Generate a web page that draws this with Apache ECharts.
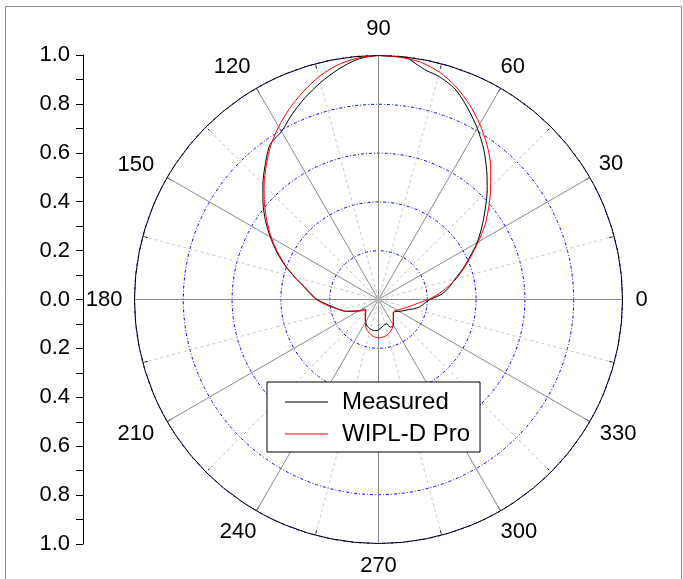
<!DOCTYPE html>
<html>
<head>
<meta charset="utf-8">
<script src="https://cdn.jsdelivr.net/npm/echarts@6/dist/echarts.min.js"></script>
<style>
  html, body { margin: 0; padding: 0; background: #fff; }
  #chart { width: 683px; height: 579px; }
</style>
</head>
<body>
<div id="chart"></div>
<script>
// angle (deg) and normalised pattern for each curve
var measuredAngles = [0, 5, 10, 15, 20, 25, 30, 35, 40, 45, 50, 55, 60, 65, 70, 75, 78, 81, 83, 85, 90,
  95, 100, 105, 110, 115, 120, 125, 130, 135, 140, 145, 150, 155, 160, 165, 170, 175, 180,
  185, 190, 195, 200, 205, 210, 213, 215, 220, 225, 230, 235, 240, 245, 250, 255, 260, 265, 270,
  275, 280, 285, 289, 293, 300, 305, 310, 315, 320, 325, 330, 335, 340, 345, 350, 355, 360];
var measured = [0.21, 0.262, 0.295, 0.325, 0.368, 0.413, 0.467, 0.517, 0.57, 0.63, 0.69, 0.752, 0.81, 0.865, 0.918, 0.948, 0.958, 0.978, 0.995, 0.998, 1.0,
  0.988, 0.957, 0.92, 0.88, 0.838, 0.795, 0.775, 0.722, 0.67, 0.618, 0.566, 0.512, 0.46, 0.408, 0.356, 0.31, 0.278, 0.252,
  0.215, 0.185, 0.163, 0.143, 0.115, 0.094, 0.082, 0.067, 0.068, 0.074, 0.082, 0.093, 0.105, 0.116, 0.122, 0.126, 0.128, 0.128, 0.124,
  0.117, 0.11, 0.105, 0.105, 0.123, 0.123, 0.107, 0.095, 0.087, 0.081, 0.086, 0.097, 0.11, 0.124, 0.148, 0.172, 0.188, 0.21];

var wipldAngles = [0, 5, 10, 15, 20, 25, 30, 35, 40, 45, 50, 55, 60, 65, 70, 75, 80, 85, 90,
  95, 100, 105, 110, 115, 120, 125, 130, 135, 140, 145, 150, 155, 160, 165, 170, 175, 180,
  185, 190, 195, 200, 205, 210, 215, 219, 225, 230, 235, 240, 245, 250, 255, 260, 265, 270,
  275, 280, 285, 290, 295, 300, 305, 310, 315, 320, 325, 330, 335, 340, 345, 350, 355, 360];
var wipld = [0.205, 0.245, 0.285, 0.33, 0.372, 0.418, 0.472, 0.533, 0.59, 0.65, 0.715, 0.775, 0.83, 0.882, 0.928, 0.965, 0.988, 0.997, 1.0,
  0.993, 0.975, 0.945, 0.905, 0.863, 0.818, 0.77, 0.716, 0.663, 0.61, 0.558, 0.507, 0.455, 0.405, 0.355, 0.313, 0.283, 0.255,
  0.222, 0.19, 0.163, 0.14, 0.11, 0.093, 0.08, 0.073, 0.077, 0.085, 0.095, 0.108, 0.124, 0.135, 0.143, 0.15, 0.155, 0.157,
  0.156, 0.153, 0.148, 0.141, 0.132, 0.12, 0.105, 0.094, 0.085, 0.08, 0.082, 0.088, 0.096, 0.108, 0.122, 0.14, 0.165, 0.205];

var seriesNames = ['Measured', 'WIPL-D Pro'];

function pairs(angles, vals) {
  var out = [];
  for (var i = 0; i < angles.length; i++) {
    out.push([vals[i], angles[i]]);
  }
  return out;
}

var font = 'Liberation Sans, Arial, sans-serif';

// nudge each angle label to where the original plot puts it [top, right, bottom, left]
var labelPad = {
  0: [0, 0, 0, 13], 30: [0, 0, 3, 9], 60: [0, 0, 10, 0], 90: [0, 0, 16, 0],
  120: [0, 6, 10, 0], 150: [0, 13, 2, 0], 180: [0, 12, 0, 0], 210: [1, 13, 0, 0],
  240: [10, 0, 0, 0], 270: [11, 0, 0, 0], 300: [10, 0, 0, 0], 330: [1, 0, 0, 10]
};
var rich = {};
Object.keys(labelPad).forEach(function (k) {
  rich['a' + k] = { padding: labelPad[k], fontSize: 22, fontFamily: font, color: '#000' };
});

var chart = echarts.init(document.getElementById('chart'), null, { renderer: 'canvas' });

chart.setOption({
  animation: false,
  backgroundColor: '#fff',
  graphic: [{
    type: 'rect',
    shape: { x: 5.5, y: 6.5, width: 676, height: 580 },
    style: { fill: 'none', stroke: '#8c8c8c', lineWidth: 1 },
    silent: true
  }],
  polar: {
    center: [378.5, 299.5],
    radius: 244
  },
  angleAxis: {
    type: 'value',
    min: 0,
    max: 360,
    interval: 30,
    startAngle: 0,
    clockwise: false,
    axisLine: { lineStyle: { color: '#000', width: 1 } },
    axisTick: { show: true, inside: true, length: 5, lineStyle: { color: '#000' } },
    minorTick: { show: true, splitNumber: 2, length: 5, lineStyle: { color: '#000' } },
    axisLabel: {
      margin: 0,
      color: '#000',
      fontFamily: font,
      fontSize: 22,
      rich: rich,
      formatter: function (v) {
        if (v === 360) return '';
        return '{a' + v + '|' + v + '}';
      }
    },
    splitLine: { show: true, lineStyle: { color: '#8a8a8a', width: 1 } },
    minorSplitLine: { show: true, lineStyle: { color: '#c8c8c8', width: 1, type: [3, 3] } }
  },
  radiusAxis: {
    type: 'value',
    min: 0,
    max: 1,
    interval: 0.2,
    axisLine: { show: false },
    axisTick: { show: false },
    axisLabel: { show: false },
    splitLine: { show: true, lineStyle: { color: '#0000ff', width: 1, type: [3, 2, 1, 2] } }
  },
  grid: {
    left: 83,
    top: 55,
    width: 10,
    height: 489
  },
  xAxis: { type: 'value', show: false },
  yAxis: {
    type: 'value',
    min: -1,
    max: 1,
    interval: 0.2,
    axisLine: { show: true, lineStyle: { color: '#000', width: 1 } },
    axisTick: { show: true, length: 7, lineStyle: { color: '#000' } },
    minorTick: { show: true, splitNumber: 2, length: 7, lineStyle: { color: '#000' } },
    splitLine: { show: false },
    axisLabel: {
      margin: 13,
      color: '#000',
      fontFamily: font,
      fontSize: 22,
      formatter: function (v) { return Math.abs(v).toFixed(1); }
    }
  },
  legend: {
    data: seriesNames,
    orient: 'vertical',
    left: 267,
    top: 382,
    backgroundColor: '#fff',
    borderColor: '#000',
    borderWidth: 1,
    borderRadius: 0,
    padding: [7, 10, 5, 18],
    itemGap: 6,
    itemWidth: 43,
    itemHeight: 1,
    icon: 'rect',
    textStyle: {
      color: '#000',
      fontFamily: font,
      fontSize: 24,
      lineHeight: 26,
      padding: [0, 0, 0, 9]
    }
  },
  series: [{
    name: 'axis',
    type: 'line',
    xAxisIndex: 0,
    yAxisIndex: 0,
    data: [],
    silent: true
  }, {
    name: seriesNames[0],
    type: 'line',
    coordinateSystem: 'polar',
    symbol: 'none',
    smooth: 0.25,
    lineStyle: { color: '#000', width: 1 },
    itemStyle: { color: '#000' },
    data: pairs(measuredAngles, measured)
  }, {
    name: seriesNames[1],
    type: 'line',
    coordinateSystem: 'polar',
    symbol: 'none',
    smooth: 0.25,
    lineStyle: { color: '#ff0000', width: 1 },
    itemStyle: { color: '#ff0000' },
    data: pairs(wipldAngles, wipld)
  }]
});
</script>
</body>
</html>
